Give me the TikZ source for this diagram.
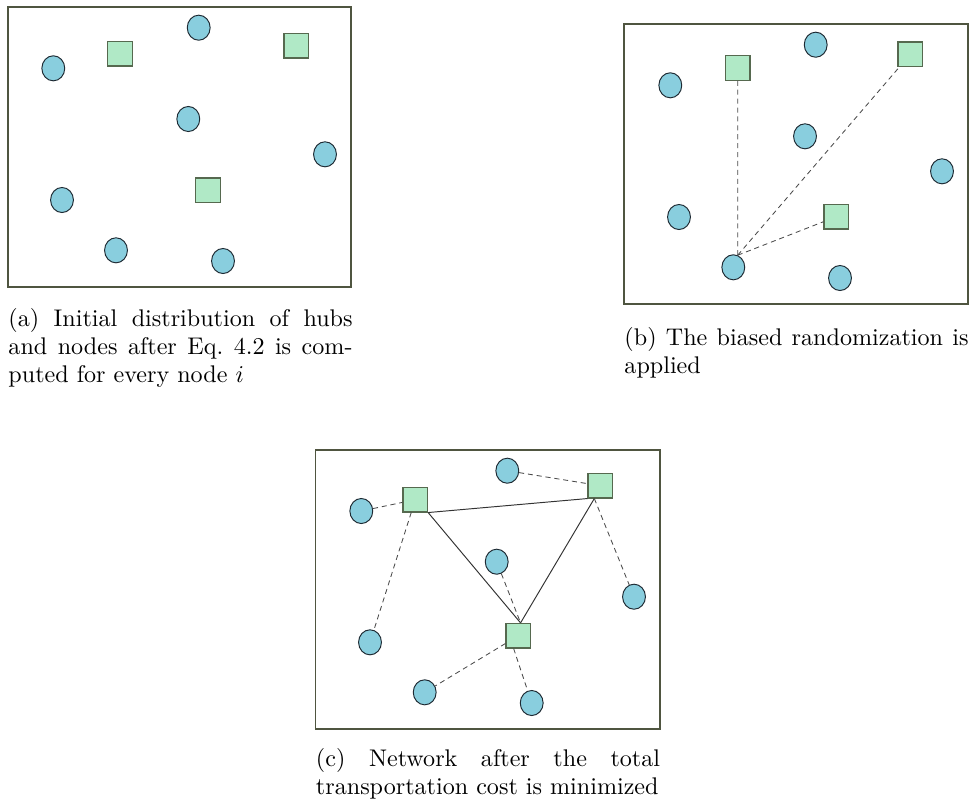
\documentclass[tikz,border=0pt]{standalone}
\usepackage{tikz}
\usetikzlibrary{calc, positioning, shapes}
\usepackage{amsmath}
\usepackage{amssymb}

\definecolor{sitefill}{HTML}{89CEDE}
\definecolor{sitedraw}{HTML}{1E2A33}
\definecolor{hubfill}{HTML}{B0E9C6}
\definecolor{hubdraw}{HTML}{56694F}
\definecolor{framedraw}{HTML}{4F5540}
\definecolor{linkdraw}{HTML}{4A4A4A}

\begin{document}
\begin{tikzpicture}[x=0.415pt, y=-0.415pt,
  site/.style={ellipse, fill=sitefill, draw=sitedraw, line width=0.4pt, inner sep=0pt, minimum width=9.5pt, minimum height=10.4pt},
  hub/.style={rectangle, fill=hubfill, draw=hubdraw, line width=0.45pt, inner sep=0pt, minimum size=10.2pt},
  panel/.style={draw=framedraw, line width=0.6pt},
  link/.style={draw=linkdraw, line width=0.35pt, dash pattern=on 2.1pt off 1.6pt},
  route/.style={draw=black!80, line width=0.4pt},
  subcap/.style={anchor=north west, inner sep=0pt, text width=142.8pt, align=justify, font=\fontsize{10}{11.6}\selectfont, execute at begin node={\setlength{\baselineskip}{11.6pt}}}]
  \useasboundingbox (0,0) rectangle (971,807);

  % (a) initial distribution
  \draw[panel] (8,7) rectangle (351,287);
  \node[site] (a1) at (53.3,68.3) {};
  \node[site] (a2) at (198.7,27.7) {};
  \node[site] (a3) at (188.3,119) {};
  \node[site] (a4) at (325,154.3) {};
  \node[site] (a5) at (62,200) {};
  \node[site] (a6) at (116,250.3) {};
  \node[site] (a7) at (223,261) {};
  \node[hub] (ha1) at (120,53.7) {};
  \node[hub] (ha2) at (296.3,45.7) {};
  \node[hub] (ha3) at (208,190.3) {};
  \node[subcap] (capa) at (8,308) {(a) Initial distribution of hubs and nodes after Eq.~4.2 is computed for every node $i$};

  % (b) biased randomization
  \draw[panel] (624,24) rectangle (968,304);
  \node[site] (b1) at (670.3,85.3) {};
  \node[site] (b2) at (815.7,44.7) {};
  \node[site] (b3) at (805,136.3) {};
  \node[site] (b4) at (942,171.3) {};
  \node[site] (b5) at (679,217) {};
  \node[site] (b6) at (733.3,267.3) {};
  \node[site] (b7) at (840,278) {};
  \node[hub] (hb1) at (737.7,68) {};
  \node[hub] (hb2) at (910.3,54.3) {};
  \node[hub] (hb3) at (836.3,216.7) {};
  \draw[link] (b6.70) -- (hb1.south);
  \draw[link] (b6.70) -- (hb2);
  \draw[link] (b6.70) -- (hb3);
  \node[subcap] (capb) at (624,327) {(b) The biased randomization is applied};

  % (c) minimized network
  \draw[panel] (315.5,450) rectangle (660,729);
  \node[site] (c1) at (361.3,511) {};
  \node[site] (c2) at (507.3,470.7) {};
  \node[site] (c3) at (496.7,561.7) {};
  \node[site] (c4) at (634,596.7) {};
  \node[site] (c5) at (370,642.3) {};
  \node[site] (c6) at (424.7,692.3) {};
  \node[site] (c7) at (531.7,703) {};
  \node[hub] (hc1) at (415.3,499.7) {};
  \node[hub] (hc2) at (600.3,485.7) {};
  \node[hub] (hc3) at (518.3,635.7) {};
  \draw[route] (hc1.south east) -- (hc2.south west);
  \draw[route] (hc1.south east) -- (hc3.80);
  \draw[route] (hc2.245) -- (hc3.80);
  \draw[link] (c1) -- (hc1);
  \draw[link] (hc1) -- (c5);
  \draw[link] (c2) -- (hc2);
  \draw[link] (hc2.245) -- (c4);
  \draw[link] (c3) -- (hc3.80);
  \draw[link] (hc3) -- (c6);
  \draw[link] (hc3.250) -- (c7);
  \node[subcap] (capc) at (315.5,748) {(c) Network after the total \mbox{transportation} cost is minimized};
\end{tikzpicture}
\end{document}
